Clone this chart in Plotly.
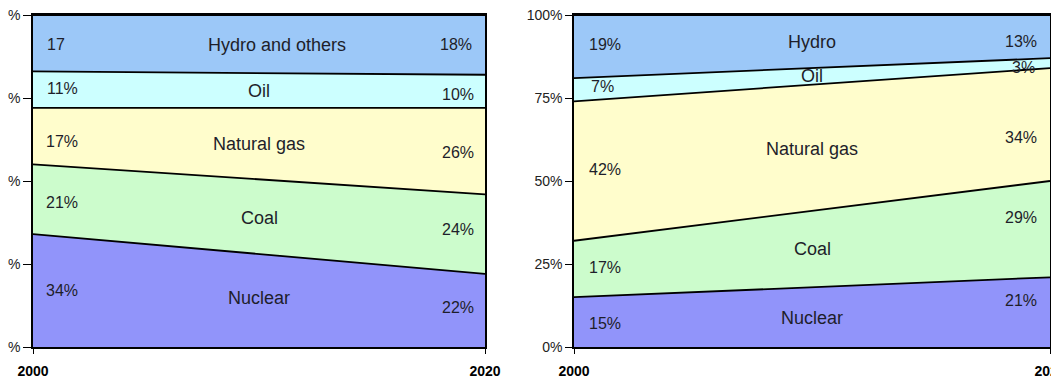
import plotly.graph_objects as go

# Electricity generation mix, share of total (%), 2000 vs 2020
years = [2000, 2020]
sources_left = ["Nuclear", "Coal", "Natural gas", "Oil", "Hydro and others"]
left_nuclear = [34, 22]
left_coal = [21, 24]
left_gas = [17, 26]
left_oil = [11, 10]
left_hydro = [17, 18]

sources_right = ["Nuclear", "Coal", "Natural gas", "Oil", "Hydro"]
right_nuclear = [15, 21]
right_coal = [17, 29]
right_gas = [42, 34]
right_oil = [7, 3]
right_hydro = [19, 13]

y_ticks = [0, 25, 50, 75, 100]
y_ticktext_left = ["%", "%", "%", "%", "%"]
y_ticktext_right = ["0%", "25%", "50%", "75%", "100%"]

colors = ["#9194fa", "#ccfccc", "#fffdcc", "#ccffff", "#9cc8f8"]

left_series = [left_nuclear, left_coal, left_gas, left_oil, left_hydro]
right_series = [right_nuclear, right_coal, right_gas, right_oil, right_hydro]

# label placement (x in years, y in %) for start value, name, end value
left_pos = [
    ((2001.3, 17), (2010, 14.8), (2018.8, 12)),
    ((2001.3, 43.4), (2010, 39), (2018.8, 35.5)),
    ((2001.3, 62), (2010, 61), (2018.8, 58.7)),
    ((2001.3, 78), (2010, 77), (2018.8, 76)),
    ((2001.0, 91), (2010.8, 91), (2018.7, 91)),
]
right_pos = [
    ((2001.3, 7.2), (2010, 8.7), (2018.8, 13.9)),
    ((2001.3, 23.8), (2010, 29.5), (2018.8, 38.9)),
    ((2001.3, 53.6), (2010, 59.6), (2018.8, 63)),
    ((2001.2, 78.6), (2010, 81.6), (2018.9, 84.3)),
    ((2001.3, 91), (2010, 91.9), (2018.8, 91.9)),
]

fig = go.Figure()

for series, names, xa, ya, grp in [
    (left_series, sources_left, "x", "y", "L"),
    (right_series, sources_right, "x2", "y2", "R"),
]:
    for vals, name, col in zip(series, names, colors):
        fig.add_trace(go.Scatter(
            x=years, y=vals, name=name, stackgroup=grp,
            mode="lines", fillcolor=col,
            line=dict(color="black", width=1.8),
            xaxis=xa, yaxis=ya, showlegend=False, hoverinfo="skip",
        ))

FONT = "Liberation Sans, Arial, sans-serif"
name_font = dict(family=FONT, size=18, color="#1e1e2a")
pct_font = dict(family=FONT, size=16, color="#1e1e2a")
annotations = []
for series, names, pos, xr, yr in [
    (left_series, sources_left, left_pos, "x", "y"),
    (right_series, sources_right, right_pos, "x2", "y2"),
]:
    for vals, name, (p0, pm, p1) in zip(series, names, pos):
        start_txt = f"{vals[0]}%"
        if xr == "x" and name == "Hydro and others":
            start_txt = f"{vals[0]}"
        for (px, py), txt, fnt in [(p0, start_txt, pct_font),
                                   (pm, name, name_font),
                                   (p1, f"{vals[1]}%", pct_font)]:
            annotations.append(dict(
                x=px, y=py, xref=xr, yref=yr, text=txt, showarrow=False,
                font=fnt, xanchor="center", yanchor="middle",
            ))

W = 1051
axis_common = dict(
    showline=True, linecolor="black", linewidth=1.5, mirror=True,
    ticks="outside", tickcolor="black", showgrid=False, zeroline=False,
    automargin=False, ticklabeloverflow="allow",
)
xfont = dict(family=FONT, size=14, color="black")
yfont = dict(family=FONT, size=14, color="#222222")

fig.update_layout(
    width=W, height=381,
    margin=dict(l=0, r=0, t=15, b=34),
    paper_bgcolor="white", plot_bgcolor="white",
    annotations=annotations,
    xaxis=dict(domain=[33 / W, 485 / W], range=[2000, 2020],
               tickvals=years, ticktext=["<b>2000</b>", "<b>2020</b>"],
               tickfont=xfont, ticklen=5, ticklabelstandoff=5, **axis_common),
    yaxis=dict(range=[0, 100], tickvals=y_ticks, ticktext=y_ticktext_left,
               tickfont=yfont, ticklen=8, ticklabelstandoff=0, **axis_common),
    xaxis2=dict(domain=[574 / W, 1050 / W], range=[2000, 2020], anchor="y2",
                tickvals=years, ticktext=["<b>2000</b>", "<b>2020</b>"],
                tickfont=xfont, ticklen=5, ticklabelstandoff=5, **axis_common),
    yaxis2=dict(range=[0, 100], tickvals=y_ticks, ticktext=y_ticktext_right,
                anchor="x2", tickfont=yfont, ticklen=7, **axis_common),
)

fig.write_html("out.html")
